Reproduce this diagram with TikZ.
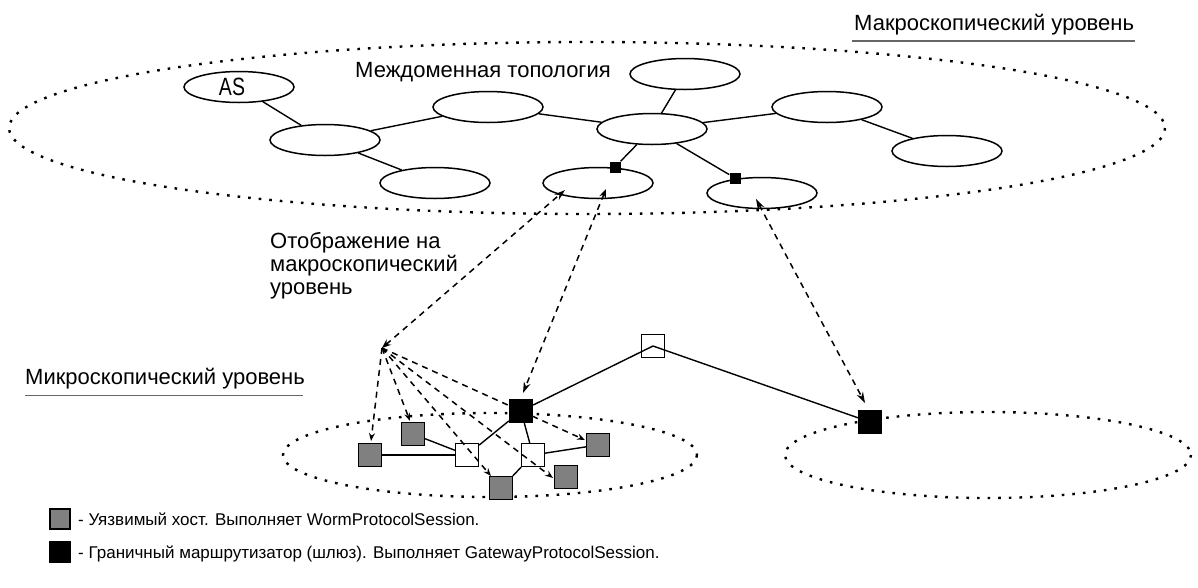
\documentclass[tikz,border=0pt]{standalone}
\usepackage{fontspec}
\setmainfont{Liberation Sans}
\usetikzlibrary{shapes.geometric,arrows.meta}

\definecolor{hostgray}{RGB}{128,128,128}

\begin{document}
\begin{tikzpicture}[x=1pt,y=-1pt,
  asnode/.style={ellipse,draw,line width=1.5pt,minimum width=110pt,minimum height=31pt,inner sep=0pt,fill=white},
  region/.style={draw,line width=2.4pt,dash pattern=on 2.6pt off 8pt},
  link/.style={line width=1.4pt},
  gwbox/.style={fill=black,minimum size=11pt,inner sep=0pt},
  hostbox/.style={draw,line width=1.3pt,minimum size=23pt,inner sep=0pt,fill=hostgray},
  relaybox/.style={draw,line width=1.3pt,minimum size=23pt,inner sep=0pt,fill=white},
  routerbox/.style={draw,line width=1.3pt,minimum size=23pt,inner sep=0pt,fill=black},
  maplink/.style={line width=1.5pt,dash pattern=on 6pt off 5pt},
  fanlink/.style={line width=1.5pt,dash pattern=on 6pt off 5pt,-{Stealth[length=8pt,width=6pt]}},
  opentip/.tip={Stealth[open,length=11pt,width=7pt]},
  filltip/.tip={Stealth[length=9pt,width=7pt]},
  lbl/.style={font=\fontsize{22}{26}\selectfont,inner sep=0pt},
  legendtxt/.style={font=\fontsize{17}{20}\selectfont,inner sep=0pt}
]
\fill[white] (0,0) rectangle (1198,587);
\useasboundingbox (0,0) rectangle (1198,587);

% level boundaries
\draw[region] (587,128) ellipse [x radius=578, y radius=86];
\draw[region] (490,455) ellipse [x radius=207, y radius=42];
\draw[region] (988,455) ellipse [x radius=203, y radius=43];

% level captions
\node[lbl,anchor=base west] (macrolbl) at (854,30) {Макроскопический уровень};
\draw[line width=1.5pt,gray!80!black] (macrolbl.south west) ++(-2,6) -- ++(283,0);
\node[lbl,anchor=base west] (microlbl) at (25,384) {Микроскопический уровень};
\draw[line width=1.5pt,gray!80!black] (microlbl.south west) ++(0,6.5) -- ++(278,0);
\node[lbl,anchor=base west] (topolbl) at (355,77) {Междоменная топология};
\node[lbl,anchor=base west] (maplbl1) at (270,248) {Отображение на};
\node[lbl,anchor=base west] (maplbl2) at (270,271) {макроскопический};
\node[lbl,anchor=base west] (maplbl3) at (270,294) {уровень};

% inter-domain topology
\node[asnode] (as) at (239,87) {\fontsize{25}{25}\selectfont\scalebox{0.78}[1]{AS}\kern14pt};
\node[asnode] (e2) at (325,140) {};
\node[asnode] (e3) at (435,183) {};
\node[asnode] (e4) at (488,107) {};
\node[asnode] (e5) at (685,74) {};
\node[asnode] (e6) at (652,129) {};
\node[asnode] (e7) at (827,107) {};
\node[asnode] (e8) at (947,151) {};
\node[asnode] (e9) at (598,183) {};
\node[asnode] (e10) at (762,193) {};
\node[gwbox] (gw1) at (615,167) {};
\node[gwbox] (gw2) at (735,178) {};

\draw[link] (as) -- (e2);
\draw[link] (e2) -- (e3);
\draw[link] (e2) -- (e4);
\draw[link] (e4) -- (e6);
\draw[link] (e5) -- (e6);
\draw[link] (e6) -- (e7);
\draw[link] (e7) -- (e8);
\draw[link] (e6) -- (gw1);
\draw[link] (e6) -- (gw2);

% packet-level network
\node[hostbox] (h1) at (370,455) {};
\node[hostbox] (h2) at (413,434) {};
\node[relaybox] (w1) at (467,455) {};
\node[relaybox] (w2) at (533,455) {};
\node[hostbox] (h3) at (501,488) {};
\node[hostbox] (h4) at (566,477) {};
\node[hostbox] (h5) at (598,445) {};
\node[routerbox] (b1) at (521,411) {};
\node[relaybox,fill=none] (w3) at (653,346) {};
\node[routerbox] (b2) at (870,422) {};

\draw[link] (h1) -- (w1);
\draw[link] (h2) -- (w1);
\draw[link] (w1) -- (b1);
\draw[link] (b1) -- (w2);
\draw[link] (w2) -- (h3);
\draw[link] (w2) -- (h5);
\draw[link] (b1) -- (w3.center) -- (b2);

% mapping between the levels
\coordinate (apex) at (382,348);
\coordinate (m1) at (565,190);
\coordinate (m2) at (606,189);
\coordinate (m3) at (756,199);
\coordinate (b1top) at (523,393);
\coordinate (b2top) at (865,403);
\draw[maplink,filltip-opentip] (apex) -- (m1);
\draw[maplink,filltip-opentip] (m2) -- (b1top);
\draw[maplink,opentip-opentip] (m3) -- (b2top);

\coordinate (t1) at (371,441);
\coordinate (t2) at (410,421);
\coordinate (t3) at (491,476);
\coordinate (t4) at (553,478);
\coordinate (t5) at (585,440);
\draw[fanlink] (apex) -- (t1);
\draw[fanlink] (apex) -- (t2);
\draw[fanlink] (apex) -- (t3);
\draw[fanlink] (apex) -- (t4);
\draw[fanlink] (apex) -- (t5);

% legend
\node[hostbox,minimum size=20pt] (lg1) at (60,519) {};
\node[routerbox,minimum size=20pt] (lg2) at (60,552) {};
\node[legendtxt,anchor=base west] (lgt1) at (78,525) {- Уязвимый хост. Выполняет WormProtocolSession.};
\node[legendtxt,anchor=base west] (lgt2) at (78,558) {- Граничный маршрутизатор (шлюз). Выполняет GatewayProtocolSession.};
\end{tikzpicture}
\end{document}
